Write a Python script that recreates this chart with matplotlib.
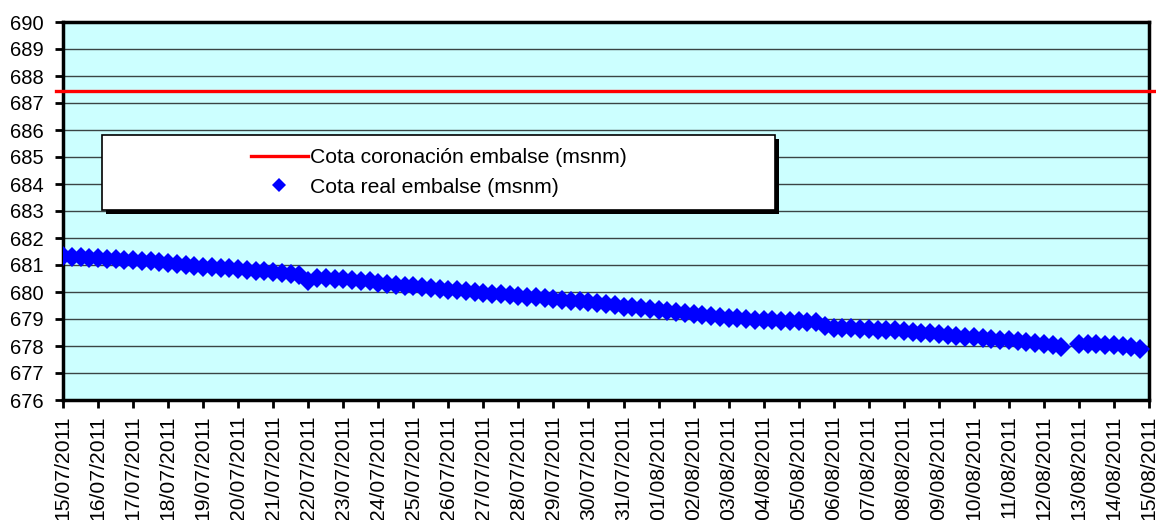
"""
Cota del embalse, 15/07/2011 - 15/08/2011.
Lecturas cada 6 h frente a la cota de coronacion.
"""

import matplotlib
matplotlib.use("Agg")
import matplotlib.dates as mdates
import matplotlib.pyplot as plt
import numpy as np
import pandas as pd
from matplotlib.lines import Line2D
from matplotlib.patches import Rectangle

plt.rcParams["font.family"] = ["Liberation Sans", "DejaVu Sans"]

# ===== Data =====
START = "2011-07-15"
END = "2011-08-15"
CROWN_LEVEL = 687.45  # cota coronacion (msnm)

# one reading every 6 h, 4 per day (None = missing reading)
LEVEL = [
    681.34, 681.31, 681.29, 681.27,  # 15/07
    681.25, 681.23, 681.21, 681.19,  # 16/07
    681.18, 681.16, 681.13, 681.10,  # 17/07
    681.07, 681.04, 681.00, 680.97,  # 18/07
    680.94, 680.92, 680.90, 680.88,  # 19/07
    680.85, 680.82, 680.79, 680.76,  # 20/07
    680.73, 680.70, 680.66, 680.63,  # 21/07
    680.40, 680.53, 680.51, 680.49,  # 22/07
    680.47, 680.45, 680.42, 680.39,  # 23/07
    680.32, 680.30, 680.27, 680.24,  # 24/07
    680.21, 680.18, 680.15, 680.12,  # 25/07
    680.09, 680.06, 680.03, 680.00,  # 26/07
    679.97, 679.94, 679.91, 679.88,  # 27/07
    679.85, 679.82, 679.80, 679.77,  # 28/07
    679.74, 679.71, 679.68, 679.65,  # 29/07
    679.62, 679.58, 679.55, 679.51,  # 30/07
    679.46, 679.43, 679.41, 679.38,  # 31/07
    679.35, 679.31, 679.27, 679.22,  # 01/08
    679.19, 679.16, 679.12, 679.08,  # 02/08
    679.05, 679.02, 679.00, 678.98,  # 03/08
    678.97, 678.96, 678.94, 678.93,  # 04/08
    678.92, 678.90, 678.88, 678.74,  # 05/08
    678.68, 678.66, 678.65, 678.63,  # 06/08
    678.62, 678.61, 678.60, 678.58,  # 07/08
    678.56, 678.53, 678.50, 678.47,  # 08/08
    678.44, 678.41, 678.38, 678.35,  # 09/08
    678.33, 678.30, 678.27, 678.24,  # 10/08
    678.21, 678.18, 678.15, 678.11,  # 11/08
    678.07, 678.02, 677.96, None,    # 12/08
    678.07, 678.06, 678.06, 678.05,  # 13/08
    678.03, 678.00, 677.95, 677.89,  # 14/08
]

Y_TICKS = list(range(676, 691))
LABEL_CROWN = "Cota coronación embalse (msnm)"
LABEL_REAL = "Cota real embalse (msnm)"

BG = "#CCFFFF"
RED = "#FF0000"
BLUE = "#0000FF"
FS = 14.5

# legend box, axes fraction (x0, y0, x1, y1)
LEG_BOX = (0.0359, 0.5026, 0.6556, 0.701)


def main() -> None:
    times = pd.date_range(START, periods=len(LEVEL), freq="6h")
    level = np.array([np.nan if v is None else v for v in LEVEL], dtype=float)

    fig = plt.figure(figsize=(11.56, 5.2), dpi=100)
    ax = fig.add_axes([63 / 1156, 120 / 520, 1086 / 1156, 378 / 520])
    ax.set_facecolor(BG)

    # grid at every metre
    for y in Y_TICKS:
        ax.axhline(y, color="#3a4444", linewidth=1.0, zorder=1)

    ax.axhline(CROWN_LEVEL, xmin=-0.006, xmax=1.01, color=RED,
               linewidth=2.4, clip_on=False, zorder=3)
    ax.plot(times, level, linestyle="none", marker="D", markersize=10,
            color=BLUE, markeredgewidth=0, zorder=4)

    ax.set_ylim(676, 690)
    ax.set_yticks(Y_TICKS)
    ax.set_xlim(pd.Timestamp(START), pd.Timestamp(END))
    ax.xaxis.set_major_locator(mdates.DayLocator())
    ax.xaxis.set_major_formatter(mdates.DateFormatter("%d/%m/%Y"))

    ax.tick_params(axis="both", direction="out", length=6, width=2,
                   labelsize=FS, color="black")
    ax.tick_params(axis="y", pad=8)
    ax.tick_params(axis="x", pad=5, labelsize=15.2)
    plt.setp(ax.get_xticklabels(), rotation=90, ha="center", va="top")
    for s in ax.spines.values():
        s.set_linewidth(2.5)
        s.set_color("black")

    # legend frame with a solid black drop shadow
    x0, y0, x1, y1 = LEG_BOX
    dx, dy = 4 / 1086, 4 / 378
    ax.add_patch(Rectangle((x0 + dx, y0 - dy), x1 - x0, y1 - y0,
                           transform=ax.transAxes, facecolor="black",
                           edgecolor="none", zorder=5))
    ax.add_patch(Rectangle((x0, y0), x1 - x0, y1 - y0,
                           transform=ax.transAxes, facecolor="white",
                           edgecolor="black", linewidth=1.2, zorder=6))

    handles = [
        Line2D([], [], color=RED, linewidth=2.4),
        Line2D([], [], linestyle="none", marker="D", markersize=7,
               color=BLUE, markeredgewidth=0),
    ]
    leg = ax.legend(
        handles, [LABEL_CROWN, LABEL_REAL],
        loc="center",
        bbox_to_anchor=((x0 + x1) / 2, (y0 + y1) / 2),
        fontsize=15.2, frameon=False,
        handlelength=2.7, handletextpad=0.1,
        labelspacing=0.5, borderpad=0, borderaxespad=0,
    )
    leg.set_zorder(7)

    fig.savefig("out.png", dpi=100, facecolor="white")


if __name__ == "__main__":
    main()
